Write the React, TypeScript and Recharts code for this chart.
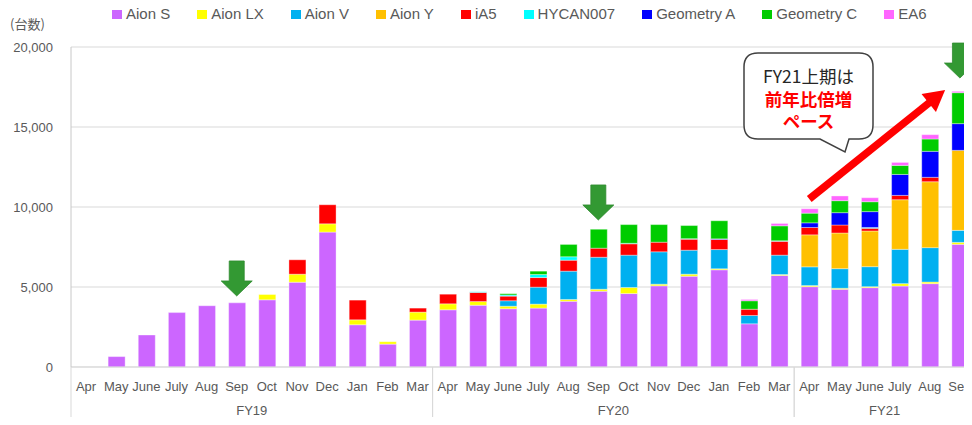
import { BarChart, Bar, XAxis, YAxis, CartesianGrid, ReferenceDot, ReferenceLine } from 'recharts';

// categories
const FISCAL_YEARS = ['FY19', 'FY20', 'FY21'];
const MONTHS_PER_YEAR = [12, 12, 6];
const MONTH_LABELS = ['Apr', 'May', 'June', 'July', 'Aug', 'Sep', 'Oct', 'Nov', 'Dec', 'Jan', 'Feb', 'Mar'];
const Y_TICKS = [0, 5000, 10000, 15000, 20000];

// monthly sales by model (台数), FY19 Apr .. FY21 Sep
const aionS = [0, 650, 2000, 3400, 3830, 4010, 4200, 5300, 8430, 2640, 1430, 2930, 3575, 3860, 3640, 3680, 4110, 4740, 4590, 5075, 5675, 6075, 2700, 5720, 5020, 4855, 4960, 5060, 5210, 7665];
const aionLX = [0, 0, 0, 0, 0, 0, 330, 500, 520, 310, 150, 500, 375, 230, 160, 250, 110, 120, 380, 100, 125, 65, 0, 60, 70, 65, 60, 150, 100, 125];
const aionV = [0, 0, 0, 0, 0, 0, 0, 0, 0, 0, 0, 0, 0, 0, 340, 1060, 1770, 2000, 2020, 2025, 1500, 1200, 520, 1210, 1170, 1225, 1250, 2145, 2150, 750];
const aionY = [0, 0, 0, 0, 0, 0, 0, 0, 0, 0, 0, 0, 0, 0, 0, 0, 0, 0, 0, 0, 0, 0, 0, 0, 2000, 2230, 2230, 3100, 4120, 5000];
const iA5 = [0, 0, 0, 0, 0, 0, 0, 900, 1190, 1230, 0, 250, 600, 570, 290, 600, 685, 565, 710, 600, 690, 630, 390, 870, 460, 500, 170, 270, 275, 0];
const hycan007 = [0, 0, 0, 0, 0, 0, 0, 0, 0, 0, 0, 0, 0, 40, 70, 190, 215, 0, 30, 0, 30, 0, 0, 30, 0, 0, 50, 0, 0, 0];
const geometryA = [0, 0, 0, 0, 0, 0, 0, 0, 0, 0, 0, 0, 0, 0, 0, 0, 0, 0, 0, 0, 0, 40, 0, 0, 290, 770, 990, 1310, 1625, 1670];
const geometryC = [0, 0, 0, 0, 0, 0, 0, 0, 0, 0, 0, 0, 0, 0, 80, 210, 770, 1185, 1170, 1100, 820, 1130, 530, 935, 605, 750, 620, 565, 770, 1935];
const ea6 = [0, 0, 0, 0, 0, 0, 0, 0, 0, 0, 0, 0, 0, 0, 0, 0, 0, 0, 0, 0, 0, 0, 80, 145, 275, 295, 250, 185, 270, 85];

const SERIES_KEYS = ['aionS', 'aionLX', 'aionV', 'aionY', 'iA5', 'hycan007', 'geometryA', 'geometryC', 'ea6'];
const SERIES_NAMES = ['Aion S', 'Aion LX', 'Aion V', 'Aion Y', 'iA5', 'HYCAN007', 'Geometry A', 'Geometry C', 'EA6'];
const SERIES_VALUES = [aionS, aionLX, aionV, aionY, iA5, hycan007, geometryA, geometryC, ea6];
const SERIES_COLORS = ['#cc66ff', '#ffff00', '#00b0f0', '#ffc000', '#ff0000', '#00ffff', '#0000ff', '#00cc00', '#ff66ff'];

// annotations
const GREEN_ARROW_KEYS = ['FY19-Sep', 'FY20-Sep', 'FY21-Sep'];
const GREEN_ARROW_TIPS = [4440, 9190, 18060];
const TREND_FROM = { key: 'FY21-Apr', value: 10500 };
const TREND_TO = { key: 'FY21-Sep', value: 18060 };

const rows: any[] = [];
FISCAL_YEARS.forEach((fy, g) => {
    for (let m = 0; m < MONTHS_PER_YEAR[g]; m++) {
        const i = rows.length;
        const row: any = { key: `${fy}-${MONTH_LABELS[m]}`, fy, month: MONTH_LABELS[m], group: g, pos: m };
        SERIES_KEYS.forEach((k, s) => { row[k] = SERIES_VALUES[s][i]; });
        rows.push(row);
    }
});

const CHART_W = 985;
const CHART_H = 425;
const MARGIN = { top: 47, right: 10, bottom: 0, left: 0 };
const Y_AXIS_W = 71;
const X_AXIS_H = 58;
const AXIS_Y = CHART_H - MARGIN.bottom - X_AXIS_H;
const BAND = (CHART_W - MARGIN.left - MARGIN.right - Y_AXIS_W) / rows.length;
const TEXT = '#595959';
const GRID = '#d9d9d9';

function CategoryTick(props: any) {
    const { x } = props;
    const y = AXIS_Y;
    const index = props.index ?? props.payload?.index ?? 0;
    const row = rows[index];
    const n = MONTHS_PER_YEAR[row.group];
    const mid = Math.floor((n - 1) / 2);
    return (
        <g>
            <text x={x} y={y + 23.5} textAnchor="middle" fill={TEXT} fontSize={13}>{row.month}</text>
            {row.pos === 0 && (
                <line x1={x - BAND / 2} x2={x - BAND / 2} y1={y} y2={y + X_AXIS_H} stroke={GRID} />
            )}
            {row.pos === n - 1 && (
                <line x1={x + BAND / 2} x2={x + BAND / 2} y1={y} y2={y + X_AXIS_H} stroke={GRID} />
            )}
            {row.pos === mid && (
                <text x={x + (n % 2 === 0 ? BAND / 2 : 0)} y={y + 48} textAnchor="middle" fill={TEXT} fontSize={13}>
                    {row.fy}
                </text>
            )}
        </g>
    );
}

function GreenArrow({ cx, cy }: any) {
    const pts = [
        [cx - 7.5, cy - 35], [cx + 7.5, cy - 35], [cx + 7.5, cy - 15], [cx + 15.5, cy - 15],
        [cx, cy], [cx - 15.5, cy - 15], [cx - 7.5, cy - 15],
    ].map(p => p.join(',')).join(' ');
    return <polygon points={pts} fill="#339933" stroke="#2e8a2e" strokeWidth={0.8} />;
}

function TrendArrow(props: any) {
    const { x1, y1, x2, y2 } = props;
    if ([x1, y1, x2, y2].some(v => typeof v !== 'number')) return null;
    const len = Math.hypot(x2 - x1, y2 - y1);
    const ux = (x2 - x1) / len;
    const uy = (y2 - y1) / len;
    // pull the tip back so it stays clear of the green marker
    const tx = x2 - ux * 19;
    const ty = y2 - uy * 19;
    const head = 21;
    const half = 11.5;
    const bx = tx - ux * head;
    const by = ty - uy * head;
    const px = -uy;
    const py = ux;
    return (
        <g>
            <line x1={x1} y1={y1} x2={bx + ux * 2} y2={by + uy * 2} stroke="#ff0000" strokeWidth={7.5} />
            <polygon
                points={`${tx},${ty} ${bx + px * half},${by + py * half} ${bx - px * half},${by - py * half}`}
                fill="#ff0000"
            />
        </g>
    );
}

function Callout() {
    const L = 744, R = 873, T = 53, B = 139, r = 14;
    const d = `M ${L + r} ${T} H ${R - r} Q ${R} ${T} ${R} ${T + r} V ${B - r} Q ${R} ${B} ${R - r} ${B} H 849 L 845 152 L 820 ${B} H ${L + r} Q ${L} ${B} ${L} ${B - r} V ${T + r} Q ${L} ${T} ${L + r} ${T} Z`;
    const cx = (L + R) / 2;
    const font = "'Noto Sans CJK JP', 'Noto Sans', sans-serif";
    return (
        <svg width={972} height={425} style={{ position: 'absolute', left: 0, top: 0, pointerEvents: 'none' }}>
            <path d={d} fill="#ffffff" stroke="#404040" strokeWidth={1.5} />
            <text x={cx} y={83} textAnchor="middle" fontSize={17.5} fill="#262626" fontFamily={font}>FY21上期は</text>
            <text x={cx} y={106} textAnchor="middle" fontSize={17.5} fill="#ff0000" fontWeight="bold" fontFamily={font}>前年比倍増</text>
            <text x={cx} y={128} textAnchor="middle" fontSize={17.5} fill="#ff0000" fontWeight="bold" fontFamily={font}>ペース</text>
        </svg>
    );
}

function LegendRow() {
    return (
        <div style={{ position: 'absolute', top: 5, left: 112, display: 'flex', alignItems: 'center', gap: 27, fontSize: 15, lineHeight: '18px', color: TEXT }}>
            {SERIES_NAMES.map((name, i) => (
                <div key={name} style={{ display: 'flex', alignItems: 'center' }}>
                    <span style={{ width: 10, height: 9, background: SERIES_COLORS[i], marginRight: 4, display: 'inline-block' }} />
                    <span>{name}</span>
                </div>
            ))}
        </div>
    );
}

export default function App() {
    return (
        <div
            style={{
                position: 'relative', width: 972, height: 425, margin: -8, overflow: 'hidden',
                background: '#ffffff', fontFamily: "'Liberation Sans', Arial, sans-serif",
            }}
        >
            <BarChart width={CHART_W} height={CHART_H} data={rows} margin={MARGIN}>
                <CartesianGrid stroke={GRID} vertical={false} />
                <XAxis
                    dataKey="key"
                    interval={0}
                    height={X_AXIS_H}
                    tickLine={false}
                    tickSize={0}
                    tickMargin={0}
                    axisLine={{ stroke: GRID }}
                    tick={(p: any) => <CategoryTick {...p} />}
                />
                <YAxis
                    width={Y_AXIS_W}
                    domain={[0, 20000]}
                    ticks={Y_TICKS}
                    allowDataOverflow
                    tickLine={false}
                    tickSize={0}
                    tickMargin={18}
                    axisLine={{ stroke: '#c8c8c8' }}
                    tick={{ fill: TEXT, fontSize: 13 }}
                    tickFormatter={(v: number) => v.toLocaleString('en-US')}
                />
                {SERIES_KEYS.map((k, i) => (
                    <Bar
                        key={k}
                        dataKey={k}
                        name={SERIES_NAMES[i]}
                        stackId="sales"
                        fill={SERIES_COLORS[i]}
                        stroke="rgba(255,255,255,0.45)"
                        strokeWidth={0.8}
                        barSize={17}
                        isAnimationActive={false}
                    />
                ))}
                {GREEN_ARROW_KEYS.map((k, i) => (
                    <ReferenceDot
                        key={k}
                        x={k}
                        y={GREEN_ARROW_TIPS[i]}
                        r={4}
                        ifOverflow="visible"
                        shape={(p: any) => <GreenArrow cx={p.cx} cy={p.cy} />}
                    />
                ))}
                <ReferenceLine
                    segment={[{ x: TREND_FROM.key, y: TREND_FROM.value }, { x: TREND_TO.key, y: TREND_TO.value }]}
                    ifOverflow="visible"
                    shape={(p: any) => <TrendArrow {...p} />}
                />
            </BarChart>
            <LegendRow />
            <div style={{ position: 'absolute', left: 10, top: 15, fontSize: 13, color: TEXT, fontFamily: "'Noto Sans CJK JP', sans-serif", lineHeight: '18px' }}>
                (台数)
            </div>
            <Callout />
        </div>
    );
}
